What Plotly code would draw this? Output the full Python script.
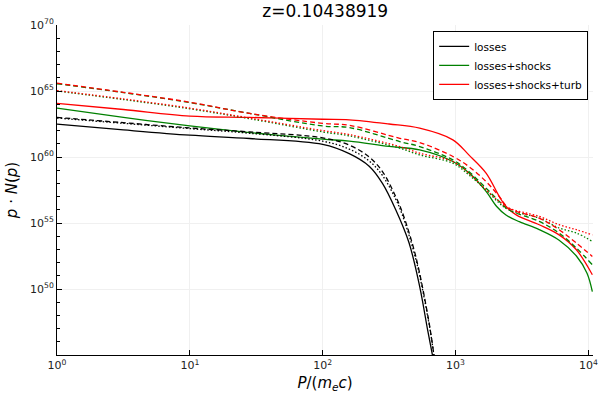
import numpy as np
import plotly.graph_objects as go

# log10 of P/(m_e c) and log10 of p*N(p)
lx_losses = [0, 0.5, 1.0, 1.45, 2.0, 2.2, 2.35, 2.45, 2.55, 2.65, 2.73, 2.79, 2.83]
ly_losses = [62.49, 62.05, 61.65, 61.4, 60.95, 60.25, 59.3, 58.0, 56.0, 53.5, 50.2, 46.9, 44.8]

lx_losses_b = [0, 0.5, 1.0, 1.45, 2.0, 2.2, 2.35, 2.45, 2.55, 2.6, 2.7, 2.8, 2.84]
ly_losses_dash = [63.0, 62.6, 62.2, 61.9, 61.45, 60.9, 60.0, 58.9, 57.0, 55.8, 52.5, 47.5, 44.8]
ly_losses_dot = [62.95, 62.55, 62.15, 61.8, 61.2, 60.6, 59.7, 58.6, 56.8, 55.6, 52.3, 47.4, 44.8]

lx_shocks = [0, 0.5, 1.0, 1.45, 2.0, 2.2, 2.5, 2.73, 2.98, 3.1, 3.23, 3.31, 3.38, 3.48, 3.63, 3.78, 3.91, 3.99, 4.03]
ly_shocks = [63.7, 63.0, 62.35, 61.85, 61.35, 61.2, 60.8, 60.54, 59.66, 58.8, 57.4, 56.25, 55.6, 55.1, 54.5, 53.7, 52.5, 51.2, 49.8]

lx_turb = [0, 0.5, 1.0, 1.45, 2.0, 2.2, 2.5, 2.73, 2.98, 3.1, 3.23, 3.33, 3.38, 3.46, 3.63, 3.78, 3.91, 4.03]
ly_turb = [64.07, 63.6, 63.1, 63.0, 62.86, 62.82, 62.5, 62.18, 61.3, 60.16, 58.78, 57.0, 56.25, 55.6, 54.87, 54.1, 52.97, 51.08]

lx_other = [0, 0.5, 1.0, 1.45, 2.0, 2.2, 2.58, 2.73, 2.98, 3.1, 3.23, 3.33, 3.4, 3.63, 3.78, 3.91, 4.03]
ly_turb_dash = [65.59, 64.9, 64.15, 63.3, 62.55, 62.4, 61.42, 61.1, 60.04, 59.28, 58.14, 57.0, 56.13, 55.37, 54.49, 53.48, 52.47]
ly_shocks_dash = [65.55, 64.88, 64.12, 63.3, 62.35, 62.23, 61.17, 60.79, 59.78, 58.9, 57.64, 56.63, 56.0, 55.12, 54.24, 53.1, 51.84]
ly_turb_dot = [65.03, 64.4, 63.7, 62.95, 62.0, 61.7, 60.79, 60.29, 59.66, 58.78, 57.51, 56.63, 56.13, 55.5, 54.87, 54.49, 54.1]
ly_shocks_dot = [65.0, 64.35, 63.65, 62.9, 61.9, 61.6, 60.67, 60.16, 59.53, 58.65, 57.5, 56.5, 56.0, 55.37, 54.62, 54.24, 53.6]

x_ticks = [0, 1, 2, 3, 4]
y_ticks = [50, 55, 60, 65, 70]

DASH = "5px,3px"
DOT = "1.5px,2px"

series = [
    ("losses", lx_losses, ly_losses, "black", "solid", True),
    ("losses+shocks", lx_shocks, ly_shocks, "green", "solid", True),
    ("losses+shocks+turb", lx_turb, ly_turb, "red", "solid", True),
    ("losses", lx_losses_b, ly_losses_dash, "black", DASH, False),
    ("losses", lx_losses_b, ly_losses_dot, "black", DOT, False),
    ("losses+shocks", lx_other, ly_shocks_dash, "green", DASH, False),
    ("losses+shocks", lx_other, ly_shocks_dot, "green", DOT, False),
    ("losses+shocks+turb", lx_other, ly_turb_dash, "red", DASH, False),
    ("losses+shocks+turb", lx_other, ly_turb_dot, "red", DOT, False),
]

fig = go.Figure()
for name, lx, ly, col, dash, leg in series:
    fig.add_trace(go.Scatter(
        x=10.0 ** np.array(lx, dtype=float), y=10.0 ** np.array(ly, dtype=float),
        mode="lines", name=name, showlegend=leg,
        line=dict(color=col, dash=dash, width=1.3, shape="spline"),
    ))

axis_font = dict(family="DejaVu Sans", size=11, color="#222222")
title_font = dict(family="DejaVu Sans", size=15, color="black")
fig.update_xaxes(
    type="log", range=[0, 4.035], automargin=False,
    tickvals=[10.0 ** k for k in x_ticks],
    ticktext=[f"10<sup>{k}</sup>" for k in x_ticks],
    ticks="inside", ticklen=5, tickcolor="black", tickfont=axis_font,
    showline=True, linecolor="black", linewidth=1, mirror=False,
    showgrid=True, gridcolor="#f0f0f0", zeroline=False,
    title=dict(text="<i>P</i>/(<i>m<sub>e</sub>c</i>)", font=title_font, standoff=6),
)
fig.update_yaxes(
    type="log", range=[45, 70], automargin=False,
    tickvals=[10.0 ** k for k in y_ticks],
    ticktext=[f"10<sup>{k}</sup>" for k in y_ticks],
    ticks="inside", ticklen=5, tickcolor="black", tickfont=axis_font,
    minor=dict(tickvals=[10.0 ** k for k in range(45, 71)], ticks="inside", ticklen=3, tickcolor="black", showgrid=False),
    showline=True, linecolor="black", linewidth=1, mirror=False,
    showgrid=True, gridcolor="#f0f0f0", zeroline=False,
    title=dict(text="<i>p</i> · <i>N</i>(<i>p</i>)", font=title_font, standoff=8),
)

fig.update_layout(
    width=600, height=400,
    margin=dict(l=57, r=7, t=25, b=45),
    paper_bgcolor="white", plot_bgcolor="white",
    title=dict(text="z=0.10438919", x=0.542, xanchor="center", y=0.972, yanchor="middle",
               font=dict(family="DejaVu Sans", size=17, color="black")),
    legend=dict(x=0.991, y=0.982, xanchor="right", yanchor="top",
                bordercolor="black", borderwidth=1, bgcolor="white",
                font=dict(family="DejaVu Sans", size=10.5, color="black"),
                tracegroupgap=0, itemwidth=30),
    showlegend=True,
)

# drop the browser's default page margin so the figure sits at the window corner
fig.write_html("out.html", config={"displayModeBar": False},
               post_script="document.body.style.margin='0px';")
